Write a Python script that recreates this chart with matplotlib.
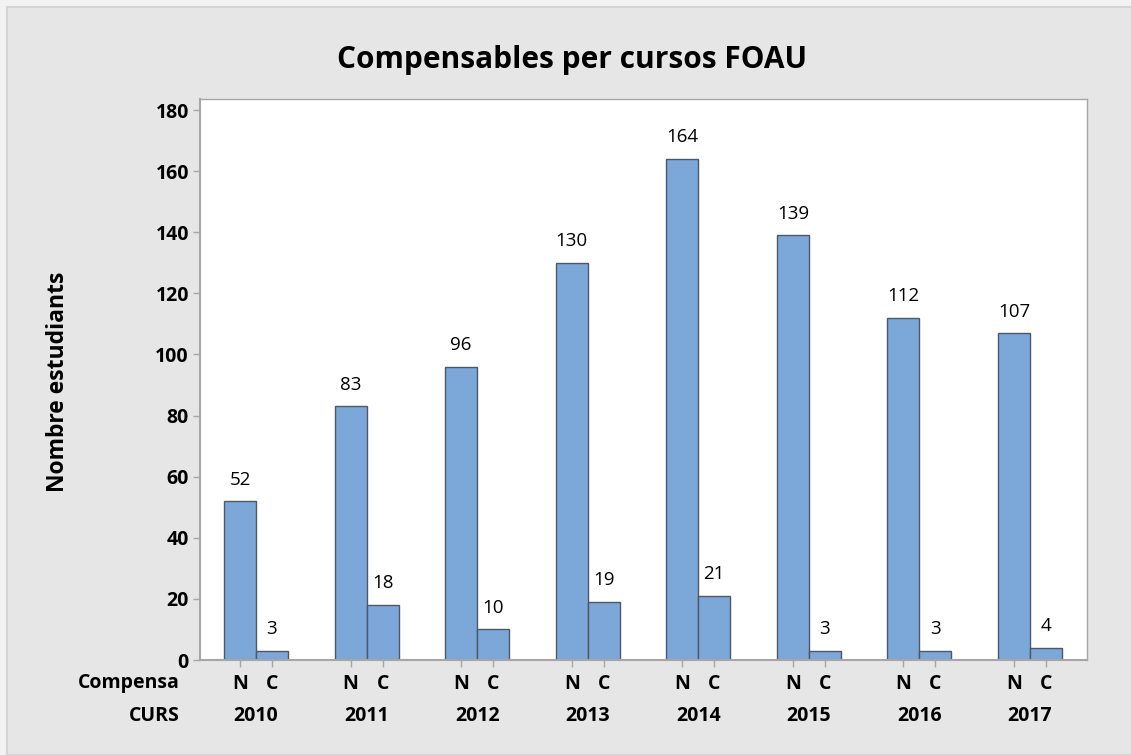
from matplotlib import pyplot as plt
from matplotlib import transforms
from matplotlib.patches import Rectangle

years = ["2010", "2011", "2012", "2013", "2014", "2015", "2016", "2017"]
no_compensa = [52, 83, 96, 130, 164, 139, 112, 107]
compensa = [3, 18, 10, 19, 21, 3, 3, 4]
compensa_labels = ["N", "C"]

plt.rcParams['font.family'] = ['Open Sans', 'DejaVu Sans']

bar_color = "#7ba7d9"
edge_color = "#4d5866"
axis_gray = "#a6a6a6"
group_step = 3.456

fig = plt.figure(figsize=(11.31, 7.55), dpi=100, facecolor="#e6e6e6")
# thin light frame like the Minitab export
fig.patches.append(Rectangle((0, 0), 1, 1, transform=fig.transFigure, facecolor="#f2f2f2", zorder=-3))
fig.patches.append(Rectangle((7 / 1131, 0), 1, 1 - 7 / 755, transform=fig.transFigure,
                             facecolor="#e6e6e6", edgecolor="#d4d4d4", linewidth=1.5, zorder=-2))

ax = fig.add_axes([200 / 1131, 95 / 755, 887 / 1131, 561 / 755])
ax.set_facecolor("white")

n_pos = [i * group_step for i in range(len(years))]
c_pos = [p + 1 for p in n_pos]

ax.bar(n_pos, no_compensa, width=1, color=bar_color, edgecolor=edge_color, linewidth=1)
ax.bar(c_pos, compensa, width=1, color=bar_color, edgecolor=edge_color, linewidth=1)

for x, v in zip(n_pos + c_pos, no_compensa + compensa):
    ax.annotate(str(v), (x, v), xytext=(0, 15.5), textcoords="offset points",
                ha="center", va="center", fontsize=13.5)

ax.set_xlim(-1.25, (len(years) - 1) * group_step + 1.5 + 0.78)
ax.set_ylim(0, 183.6)
ax.set_yticks(range(0, 181, 20))

ticks = sorted(n_pos + c_pos)
ax.set_xticks(ticks)
ax.set_xticklabels(compensa_labels * len(years))

for s in ax.spines.values():
    s.set_color(axis_gray)
    s.set_linewidth(1)
ax.spines["left"].set_linewidth(1.5)
ax.spines["bottom"].set_linewidth(1.5)

ax.tick_params(axis="both", colors=axis_gray, length=5, width=1, labelcolor="black", labelsize=14)
ax.tick_params(axis="y", pad=3)
ax.tick_params(axis="x", pad=5)
for lbl in ax.get_xticklabels() + ax.get_yticklabels():
    lbl.set_fontweight("bold")

trans = transforms.blended_transform_factory(ax.transData, ax.transAxes)
for p, y in zip(n_pos, years):
    ax.text(p + 0.5, -0.1, y, transform=trans, ha="center", va="center",
            fontsize=14, fontweight="bold")

ax.text(-0.023, -0.0415, "Compensa", transform=ax.transAxes, ha="right", va="center",
        fontsize=14, fontweight="bold")
ax.text(-0.023, -0.1, "CURS", transform=ax.transAxes, ha="right", va="center",
        fontsize=14, fontweight="bold")

fig.text(58 / 1131, 1 - 382 / 755, "Nombre estudiants", rotation=90, ha="center", va="center",
         fontsize=16.5, fontweight="bold")
fig.text(572 / 1131, 1 - 60 / 755, "Compensables per cursos FOAU", ha="center", va="center",
         fontsize=21.5, fontweight="bold")

plt.savefig("out.png", dpi=100, facecolor=fig.get_facecolor())
